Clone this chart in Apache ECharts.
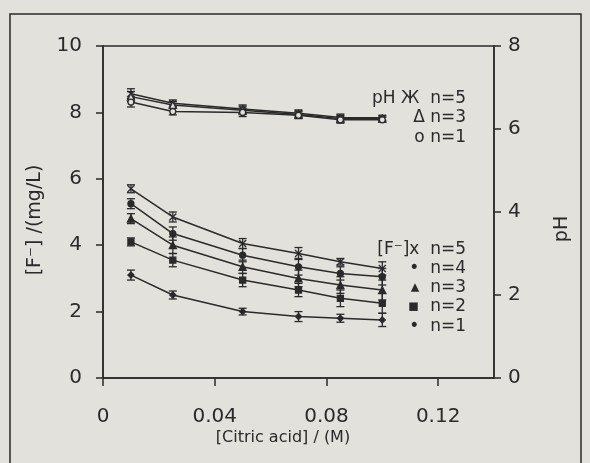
<!DOCTYPE html>
<html><head><meta charset="utf-8">
<script src="https://cdn.jsdelivr.net/npm/echarts@6/dist/echarts.min.js"></script>
<style>html,body{margin:0;padding:0;background:#e3e1db}#c{width:590px;height:463px}</style>
</head><body><div id="c"></div>
<script>
// ---- data ----
const citric = [0.01, 0.025, 0.05, 0.07, 0.085, 0.1];
const fN5 = [5.7, 4.85, 4.05, 3.75, 3.5, 3.3];
const fN5Err = [0.12, 0.15, 0.15, 0.18, 0.1, 0.2];
const fN4 = [5.25, 4.35, 3.7, 3.35, 3.15, 3.05];
const fN4Err = [0.15, 0.2, 0.2, 0.25, 0.2, 0.25];
const fN3 = [4.8, 4.0, 3.35, 3.0, 2.8, 2.65];
const fN3Err = [0.15, 0.25, 0.2, 0.25, 0.25, 0.3];
const fN2 = [4.1, 3.55, 2.95, 2.65, 2.4, 2.25];
const fN2Err = [0.12, 0.2, 0.2, 0.2, 0.25, 0.3];
const fN1 = [3.1, 2.5, 2.0, 1.85, 1.8, 1.75];
const fN1Err = [0.15, 0.12, 0.1, 0.15, 0.12, 0.2];
const pH5 = [6.85, 6.62, 6.48, 6.38, 6.28, 6.27];
const pH3 = [6.78, 6.58, 6.45, 6.35, 6.25, 6.25];
const pH1 = [6.65, 6.42, 6.4, 6.33, 6.22, 6.22];
const pHErr = [0.12, 0.08, 0.1, 0.08, 0.08, 0.06];
const xTicks = [0, 0.04, 0.08, 0.12];
const leftTicks = [0, 2, 4, 6, 8, 10];
const rightTicks = [0, 2, 4, 6, 8];
const pHLegend = ['pH Ж  n=5', 'Δ n=3', 'o n=1'];
const fLegend = ['[F⁻]x  n=5', '•  n=4', '▴  n=3', '▪  n=2', '•  n=1'];

const INK = '#2a2a2a';
const FONT = 'DejaVu Sans';

function pairs(ys) { return citric.map((x, i) => [x, ys[i]]); }
function errData(ys, es) { return citric.map((x, i) => [x, ys[i], es[i]]); }

function errSeries(ys, es, axis) {
  return {
    type: 'custom', yAxisIndex: axis, silent: true, z: 3,
    data: errData(ys, es),
    renderItem: function (params, api) {
      const x = api.value(0), y = api.value(1), e = api.value(2);
      const t = api.coord([x, y + e]), b = api.coord([x, y - e]);
      const cap = 4;
      const st = { stroke: INK, lineWidth: 1.3 };
      return { type: 'group', children: [
        { type: 'line', shape: { x1: t[0], y1: t[1], x2: b[0], y2: b[1] }, style: st },
        { type: 'line', shape: { x1: t[0] - cap, y1: t[1], x2: t[0] + cap, y2: t[1] }, style: st },
        { type: 'line', shape: { x1: b[0] - cap, y1: b[1], x2: b[0] + cap, y2: b[1] }, style: st }
      ]};
    }
  };
}

function lineSeries(name, ys, axis, symbol, size, fill) {
  return {
    name: name, type: 'line', yAxisIndex: axis, data: pairs(ys),
    symbol: symbol, symbolSize: size, showSymbol: true, z: 4,
    lineStyle: { color: INK, width: 1.5 },
    itemStyle: { color: fill || INK, borderColor: INK, borderWidth: 1.3 },
    emphasis: { disabled: true }
  };
}

const xPath = 'path://M0,0L10,10M10,0L0,10';
const starPath = 'path://M0,0L10,10M10,0L0,10M5,-1L5,11';

const chart = echarts.init(document.getElementById('c'), null, { renderer: 'canvas' });

const graphics = [
  { type: 'rect', shape: { x: 10, y: 14, width: 571, height: 470 }, style: { fill: 'none', stroke: INK, lineWidth: 1.5 }, silent: true },
  { type: 'text', x: 35, y: 220, rotation: Math.PI / 2, style: { text: '[F⁻] /(mg/L)', font: '19px ' + FONT, fill: INK, textAlign: 'center', textVerticalAlign: 'middle' } },
  { type: 'text', x: 562, y: 229, rotation: Math.PI / 2, style: { text: 'pH', font: '19px ' + FONT, fill: INK, textAlign: 'center', textVerticalAlign: 'middle' } },
  { type: 'text', x: 283, y: 438, style: { text: '[Citric acid] / (M)', font: '16px ' + FONT, fill: INK, textAlign: 'center', textVerticalAlign: 'middle' } }
];
const pHLegY = [99, 118, 138];
pHLegend.forEach((t, i) => graphics.push({ type: 'text', x: 466, y: pHLegY[i], style: { text: t, font: '17px ' + FONT, fill: INK, textAlign: 'right', textVerticalAlign: 'middle' } }));
const fLegY = [250, 269, 288, 307, 327];
fLegend.forEach((t, i) => graphics.push({ type: 'text', x: 466, y: fLegY[i], style: { text: t, font: '17px ' + FONT, fill: INK, textAlign: 'right', textVerticalAlign: 'middle' } }));

const axisCommon = {
  axisLine: { show: true, lineStyle: { color: INK, width: 1.5 } },
  axisTick: { show: true, inside: false, length: 7, lineStyle: { color: INK, width: 1.5 } },
  splitLine: { show: false },
  axisLabel: { color: INK, fontFamily: FONT, fontSize: 20 }
};

chart.setOption({
  backgroundColor: '#e3e1db',
  animation: false,
  grid: { left: 103, right: 96, top: 46, bottom: 85, show: true, borderColor: INK, borderWidth: 1.5, backgroundColor: 'transparent' },
  xAxis: Object.assign({}, axisCommon, {
    type: 'value', min: 0, max: 0.14, interval: 0.04,
    axisTick: { show: true, length: 8, lineStyle: { color: INK, width: 1.5 } },
    axisLabel: { color: INK, fontFamily: FONT, fontSize: 20, margin: 29, showMaxLabel: false,
      formatter: v => xTicks.indexOf(+v.toFixed(2)) >= 0 ? (v === 0 ? '0' : v.toFixed(2)) : '' }
  }),
  yAxis: [
    Object.assign({}, axisCommon, { type: 'value', position: 'left', min: 0, max: 10, interval: 2,
      axisLabel: { color: INK, fontFamily: FONT, fontSize: 20, margin: 21, formatter: v => leftTicks.indexOf(v) >= 0 ? String(v) : '' } }),
    Object.assign({}, axisCommon, { type: 'value', position: 'right', min: 0, max: 8, interval: 2,
      axisLabel: { color: INK, fontFamily: FONT, fontSize: 20, margin: 14, formatter: v => rightTicks.indexOf(v) >= 0 ? String(v) : '' } })
  ],
  graphic: graphics,
  series: [
    errSeries(fN5, fN5Err, 0), lineSeries('[F-] n=5', fN5, 0, xPath, 7),
    errSeries(fN4, fN4Err, 0), lineSeries('[F-] n=4', fN4, 0, 'circle', 6),
    errSeries(fN3, fN3Err, 0), lineSeries('[F-] n=3', fN3, 0, 'triangle', 7),
    errSeries(fN2, fN2Err, 0), lineSeries('[F-] n=2', fN2, 0, 'rect', 6),
    errSeries(fN1, fN1Err, 0), lineSeries('[F-] n=1', fN1, 0, 'diamond', 6),
    errSeries(pH5, pHErr, 1), lineSeries('pH n=5', pH5, 1, starPath, 7),
    errSeries(pH3, pHErr, 1), lineSeries('pH n=3', pH3, 1, 'triangle', 7, '#e3e1db'),
    errSeries(pH1, pHErr, 1), lineSeries('pH n=1', pH1, 1, 'circle', 6, '#e3e1db')
  ]
});
</script>
</body></html>
